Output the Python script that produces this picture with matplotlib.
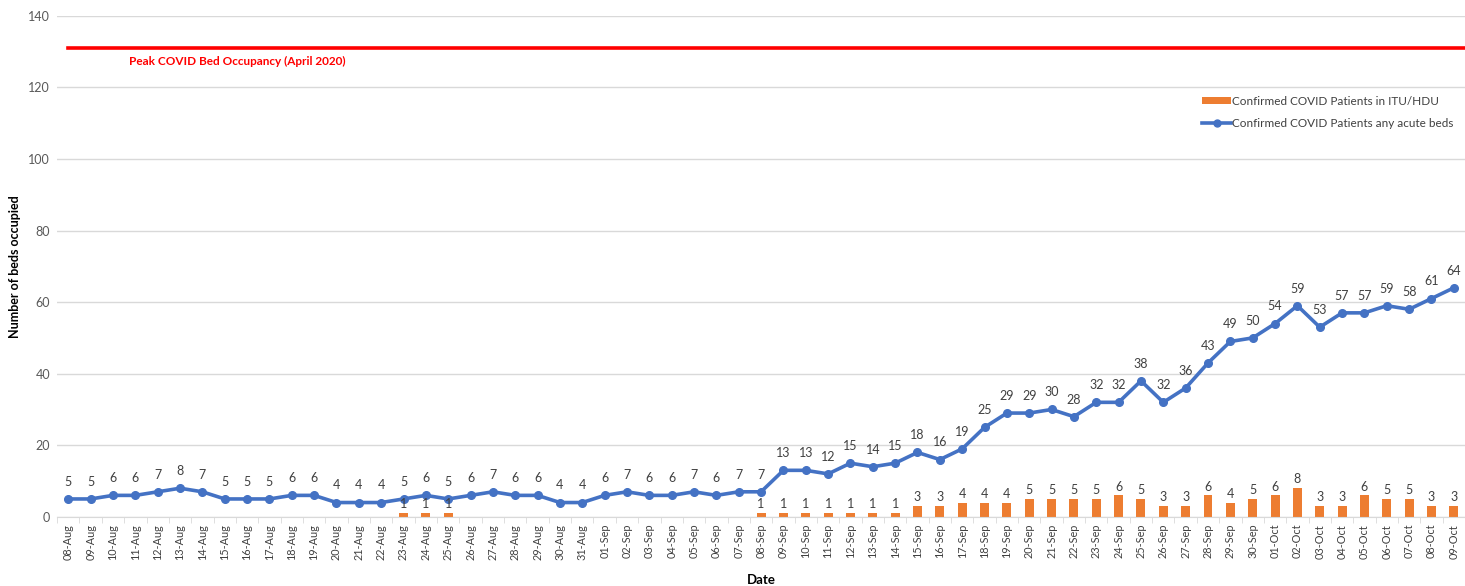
import matplotlib
matplotlib.use("Agg")
import matplotlib.pyplot as plt
import numpy as np
from matplotlib.lines import Line2D
from matplotlib.patches import Patch

plt.rcParams['font.family'] = ['Lato', 'DejaVu Sans']

dates = (["%02d-Aug" % d for d in range(8, 32)] +
         ["%02d-Sep" % d for d in range(1, 31)] +
         ["%02d-Oct" % d for d in range(1, 10)])

acute = [5, 5, 6, 6, 7, 8, 7, 5, 5, 5, 6, 6, 4, 4, 4, 5, 6, 5, 6, 7, 6, 6, 4, 4,
         6, 7, 6, 6, 7, 6, 7, 7, 13, 13, 12, 15, 14, 15, 18, 16, 19, 25, 29, 29, 30,
         28, 32, 32, 38, 32, 36, 43, 49, 50,
         54, 59, 53, 57, 57, 59, 58, 61, 64]

itu = [0, 0, 0, 0, 0, 0, 0, 0, 0, 0, 0, 0, 0, 0, 0, 1, 1, 1, 0, 0, 0, 0, 0, 0,
       0, 0, 0, 0, 0, 0, 0, 1, 1, 1, 1, 1, 1, 1, 3, 3, 4, 4, 4, 5, 5,
       5, 5, 6, 5, 3, 3, 6, 4, 5,
       6, 8, 3, 3, 6, 5, 5, 3, 3]

peak_value = 131
peak_label = "Peak COVID Bed Occupancy (April 2020)"
yticks = [0, 20, 40, 60, 80, 100, 120, 140]

blue = "#4472C4"
orange = "#ED7D31"
grey_txt = "#404040"

fig = plt.figure(figsize=(14.65, 5.86), dpi=100)
ax = fig.add_axes([0.039, 0.118, 0.961, 0.855])

x = np.arange(len(dates))

ax.bar(x, itu, width=0.4, color=orange, zorder=2)
ax.plot(x, acute, color=blue, lw=2.6, marker='o', ms=5.5, zorder=3)

# peak reference line
ax.plot([x[0], x[-1] + 0.5], [peak_value, peak_value], color="#FF0000", lw=2.6, zorder=3)
ax.text(2.7, peak_value - 2.3, peak_label, color="#FF0000", fontsize=8.5,
        fontweight='bold', va='top', ha='left')

# data labels
for xi, v in zip(x, acute):
    ax.annotate(str(v), (xi, v), xytext=(0, 8), textcoords='offset points',
                ha='center', va='bottom', fontsize=9, color=grey_txt, zorder=4)
for xi, v in zip(x, itu):
    if v > 0:
        ax.annotate(str(v), (xi, v), xytext=(0, 2), textcoords='offset points',
                    ha='center', va='bottom', fontsize=9, color=grey_txt, zorder=4)

ax.set_xlim(-0.5, len(dates) - 0.5)
ax.set_ylim(0, 140)
ax.set_yticks(yticks)
ax.set_yticklabels([str(t) for t in yticks], fontsize=9, color="#595959")
ax.set_xticks(x)
ax.set_xticklabels(dates, rotation=90, fontsize=7.8, color=grey_txt)
ax.set_xticks(np.arange(len(dates) + 1) - 0.5, minor=True)
ax.tick_params(axis='x', which='major', length=0, pad=5)
ax.tick_params(axis='x', which='minor', length=4, color="#d9d9d9")
ax.tick_params(axis='y', length=0, pad=5)

ax.grid(axis='y', color="#d9d9d9", lw=1, zorder=0)
ax.set_axisbelow(True)
for s in ['top', 'right', 'left']:
    ax.spines[s].set_visible(False)
ax.spines['bottom'].set_color("#d9d9d9")

ax.set_ylabel("Number of beds occupied", fontsize=9, fontweight='bold')
ax.yaxis.set_label_coords(-0.0255, 0.5)
ax.set_xlabel("Date", fontsize=9.5, fontweight='bold', labelpad=10)

handles = [Patch(facecolor=orange, edgecolor='none'),
           Line2D([0], [0], color=blue, lw=2.6, marker='o', ms=5)]
labels = ["Confirmed COVID Patients in ITU/HDU",
          "Confirmed COVID Patients any acute beds"]
leg = ax.legend(handles, labels, loc='upper left', bbox_to_anchor=(0.806, 0.862),
                frameon=False, fontsize=8.5, handlelength=2.4, handleheight=0.6,
                labelspacing=1.0, handletextpad=0.1)
for t in leg.get_texts():
    t.set_color(grey_txt)

fig.savefig("out.png", dpi=100)
